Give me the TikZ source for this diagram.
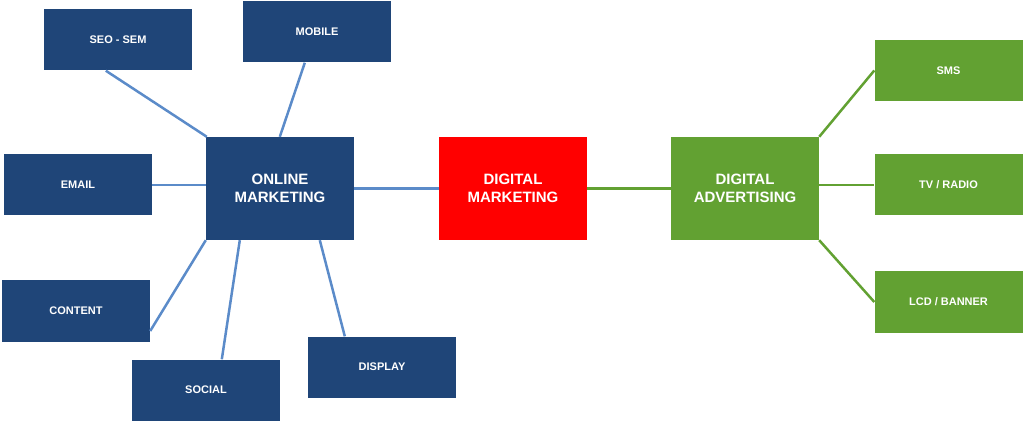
\documentclass[tikz,border=0pt]{standalone}
\usepackage{fontspec}
\setmainfont{Liberation Sans}
\begin{document}
\begin{tikzpicture}[x=1pt,y=-1pt,
  bx/.style={minimum width=148pt,minimum height=61pt,inner sep=0pt,text=white,font=\bfseries\fontsize{11}{13}\selectfont,align=center},
  big/.style={bx,minimum height=103pt,font=\bfseries\fontsize{15}{18}\selectfont},
  bl/.style={fill=blueb},
  gr/.style={fill=greenb},
  ln/.style={line width=2.5pt,draw=bluel},
  lg/.style={line width=2.5pt,draw=greenb}]
\definecolor{blueb}{HTML}{1F4578}
\definecolor{bluel}{HTML}{5B8BC9}
\definecolor{greenb}{HTML}{62A132}
\useasboundingbox (0,0) rectangle (1024,427);
\node[big,bl] (om) at (280,188.5) {ONLINE\\MARKETING};
\node[big,fill=red] (dm) at (513,188.5) {DIGITAL\\MARKETING};
\node[big,gr] (da) at (745,188.5) {DIGITAL\\ADVERTISING};
\node[bx,bl] (seo) at (118,40) {SEO - SEM};
\node[bx,bl] (mob) at (317,32) {MOBILE};
\node[bx,bl] (em) at (78,185) {EMAIL};
\node[bx,bl] (con) at (76,311) {CONTENT};
\node[bx,bl] (soc) at (206,390) {SOCIAL};
\node[bx,bl] (dis) at (382,367) {DISPLAY};
\node[bx,gr] (sms) at (948.5,70.5) {SMS};
\node[bx,gr] (tv) at (948.5,185) {TV / RADIO};
\node[bx,gr] (lcd) at (948.5,302) {LCD / BANNER};
\draw[ln] ([xshift=1pt]om.north west) -- ([xshift=62pt]seo.south west);
\draw[ln] ([xshift=74pt]om.north west) -- ([xshift=62pt]mob.south west);
\draw[ln] (om.west |- em.east) -- (em.east);
\draw[ln] (om.south west) -- ([yshift=-20pt]con.east);
\draw[ln] ([xshift=34pt]om.south west) -- ([xshift=90pt]soc.north west);
\draw[ln] ([xshift=114pt]om.south west) -- ([xshift=37pt]dis.north west);
\draw[ln] (om.east) -- (dm.west);
\draw[lg] (dm.east) -- (da.east -| da.west);
\draw[lg] (da.north east) -- (sms.west);
\draw[lg] (da.east |- tv.west) -- (tv.west);
\draw[lg] (da.south east) -- (lcd.west);
\end{tikzpicture}
\end{document}
